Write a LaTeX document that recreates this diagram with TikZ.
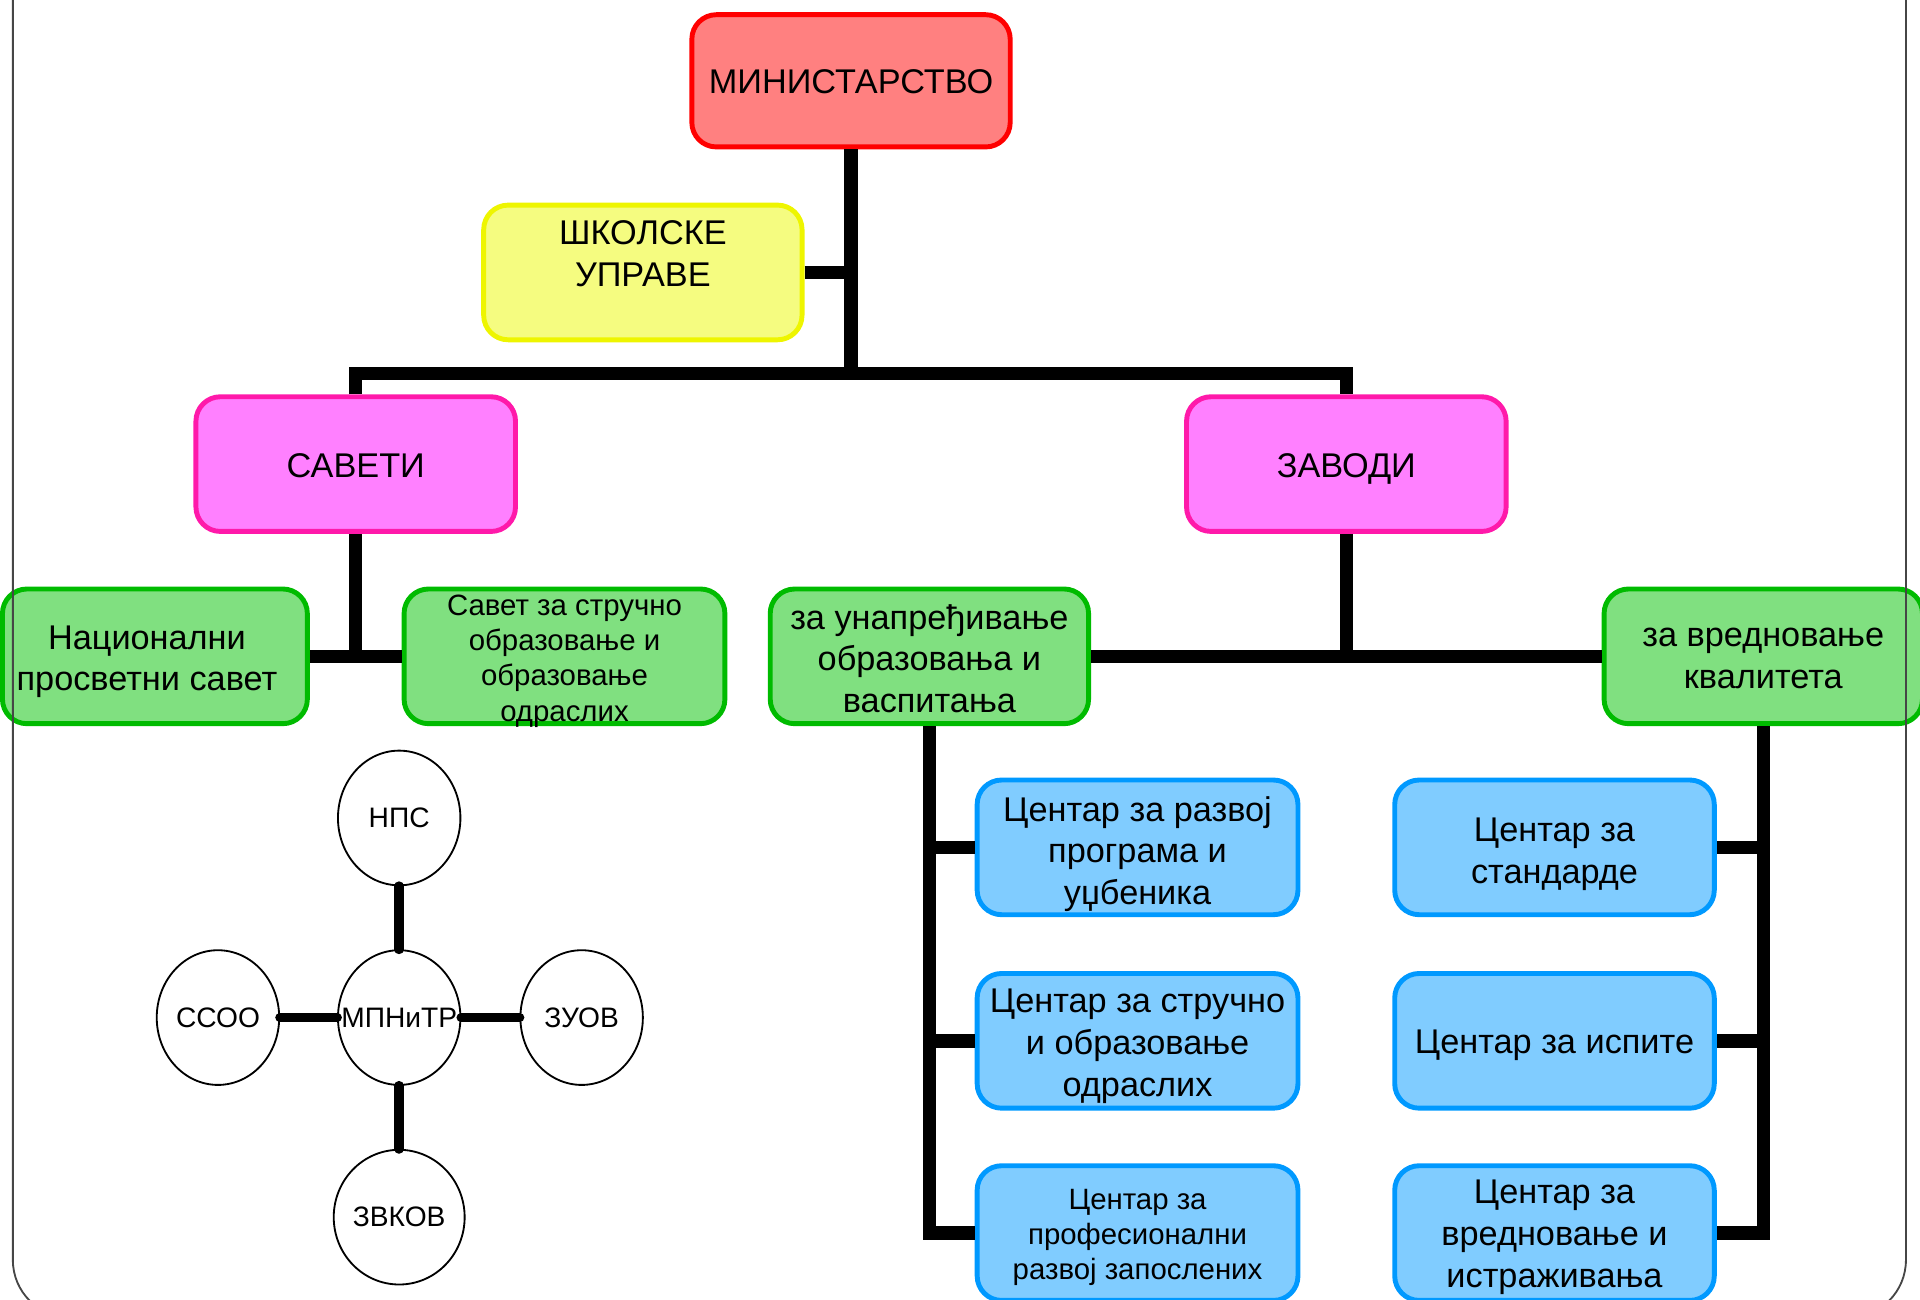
\documentclass[tikz,border=0pt]{standalone}
\usepackage{fontspec}
\setmainfont{Liberation Sans}
\usetikzlibrary{shapes.geometric}
\definecolor{redB}{RGB}{255,0,0}
\definecolor{redF}{RGB}{255,128,128}
\definecolor{yelB}{RGB}{238,245,0}
\definecolor{yelF}{RGB}{245,252,128}
\definecolor{pinkB}{RGB}{255,25,170}
\definecolor{pinkF}{RGB}{255,128,255}
\definecolor{grnB}{RGB}{0,187,0}
\definecolor{grnF}{RGB}{128,224,128}
\definecolor{bluB}{RGB}{0,153,255}
\definecolor{bluF}{RGB}{128,204,255}
\definecolor{frameC}{RGB}{70,70,70}
\newcommand\lnstrut{\rule[-0.212em]{0pt}{1.117em}}
\begin{document}
\begin{tikzpicture}[x=1pt,y=-1pt,
  box/.style={rectangle, rounded corners=20pt, line width=4pt, minimum width=261pt, minimum height=110pt, inner sep=0pt},
  minb/.style={box, draw=redB, fill=redF},
  yelb/.style={box, draw=yelB, fill=yelF},
  pinkb/.style={box, draw=pinkB, fill=pinkF},
  grnb/.style={box, draw=grnB, fill=grnF},
  blub/.style={box, draw=bluB, fill=bluF},
  txt/.style={align=center, inner sep=0pt, font=\fontsize{28}{34}\selectfont, execute at begin node=\lnstrut, execute at end node=\lnstrut},
  mtxt/.style={txt, yshift=-3.5pt},
  stxt/.style={mtxt, font=\fontsize{24}{28.7}\selectfont},
  conn/.style={line width=11pt, line cap=butt, line join=miter, black},
  circ/.style={ellipse, draw, line width=1.5pt, minimum width=100pt, minimum height=110pt, inner sep=0pt, fill=white, font=\fontsize{23}{27}\selectfont},
  cconn/.style={line width=8pt, line cap=round, black}
]
\useasboundingbox (0,0) rectangle (1568,1061);
\begin{scope}
\clip (0,0) rectangle (1568,1061);
% boxes
\node[minb, minimum width=260pt, minimum height=108pt] (min) at (695,66) {};
\node[yelb, minimum width=260pt] (sk) at (525,222.5) {};
\node[pinkb] (sav) at (290.5,379) {};
\node[pinkb] (zav) at (1099.5,379) {};
\node[grnb, minimum width=249pt] (nps) at (126.5,536) {};
\node[grnb, minimum width=262pt] (sso) at (461,536) {};
\node[grnb, minimum width=260pt] (un) at (759,536) {};
\node[grnb, minimum width=260pt] (vr) at (1440,536) {};
\node[blub, minimum width=262pt] (bl1) at (929,692) {};
\node[blub, minimum width=262pt] (bl2) at (929,850) {};
\node[blub, minimum width=262pt] (bl3) at (929,1007) {};
\node[blub] (br1) at (1269.5,692) {};
\node[blub] (br2) at (1269.5,850) {};
\node[blub] (br3) at (1269.5,1007) {};
% texts
\node[txt] (mint) at (695,67) {МИНИСТАРСТВО};
\node[mtxt] (skt) at (525,206.5) {ШКОЛСКЕ\\УПРАВЕ};
\node[txt] (savt) at (290.5,380) {САВЕТИ};
\node[txt] (zavt) at (1099.5,380) {ЗАВОДИ};
\node[mtxt] (npst) at (120,537) {Национални\\просветни савет};
\node[stxt] (ssot) at (461,536.5) {Савет за стручно\\образовање и\\образовање\\одраслих};
\node[mtxt] (unt) at (759,537) {за унапређивање\\образовања и\\васпитања};
\node[mtxt] (vrt) at (1440,537) {за вредновање\\квалитета};
\node[mtxt] (bl1t) at (929,694) {Центар за развој\\програма и\\уџбеника};
\node[mtxt] (bl2t) at (929,851) {Центар за стручно\\и образовање\\одраслих};
\node[stxt] (bl3t) at (929,1007) {Центар за\\професионални\\развој запослених};
\node[mtxt] (br1t) at (1269.5,694) {Центар за\\стандарде};
\node[txt] (br2t) at (1269.5,851) {Центар за испите};
\node[mtxt] (br3t) at (1269.5,1007) {Центар за\\вредновање и\\истраживања};
% connectors
\coordinate (j0) at (695,305);
\draw[conn] (min.south) -- (j0);
\draw[conn] (sav.north) |- (j0) -| (zav.north);
\draw[conn] (sk.east) -- (sk.east -| j0);
\draw[conn] (sav.south) -- (sav.south |- nps.east);
\draw[conn] (nps.east) -- (sso.west);
\draw[conn] (zav.south) -- (zav.south |- un.east);
\draw[conn] (un.east) -- (vr.west);
\draw[conn] (un.south) |- (bl3.west);
\draw[conn] (un.south |- bl1.west) -- (bl1.west);
\draw[conn] (un.south |- bl2.west) -- (bl2.west);
\draw[conn] (vr.south) |- (br3.east);
\draw[conn] (vr.south |- br1.east) -- (br1.east);
\draw[conn] (vr.south |- br2.east) -- (br2.east);
% circle diagram
\node[circ] (mp) at (326,831) {\makebox[0pt]{МПНиТР}};
\node[circ] (npsc) at (326,668) {НПС};
\node[circ] (ssoc) at (178,831) {ССОО};
\node[circ] (zuov) at (475,831) {ЗУОВ};
\node[circ] (zvkov) at (326,994) {ЗВКОВ};
\draw[cconn] (npsc.south) -- (mp.north);
\draw[cconn] (ssoc.east) -- (mp.west);
\draw[cconn] (mp.east) -- (zuov.west);
\draw[cconn] (mp.south) -- (zvkov.north);
% frame
\draw[frameC, line width=1.5pt, rounded corners=47pt] (10.5,-100) rectangle (1556.5,1076);
\end{scope}
\end{tikzpicture}
\end{document}
